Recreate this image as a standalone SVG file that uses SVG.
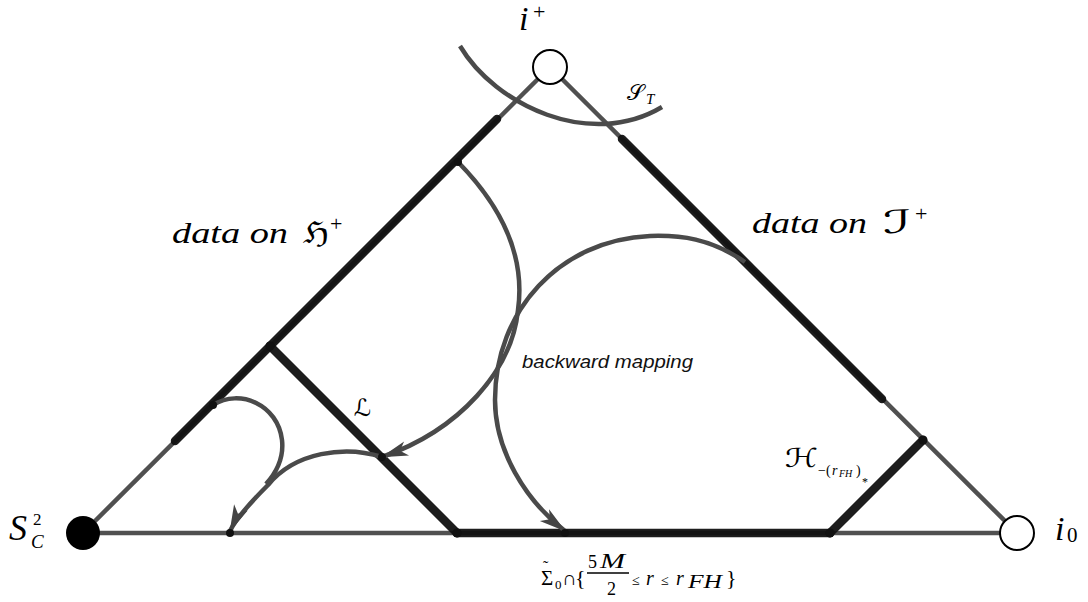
<svg xmlns="http://www.w3.org/2000/svg" width="1088" height="602" viewBox="0 0 1088 602">
<defs>
<style>
.thin{stroke:#505050;stroke-width:4.5;fill:none}
.thick{stroke:#111;stroke-width:8.5;fill:none;stroke-linecap:round;opacity:0.95}
.curve{stroke:#4a4a4a;stroke-width:4.5;fill:none}
.dot{fill:#111}
.m{font-family:"Liberation Serif","Times New Roman",serif;font-style:italic;fill:#000}
.r{font-family:"Liberation Serif","Times New Roman",serif;font-style:normal;fill:#000}
.s{font-family:"DejaVu Serif","DejaVu Sans","Noto Sans",serif;font-style:normal;fill:#000}
.sans{font-family:"Liberation Sans",Arial,sans-serif;font-style:italic;fill:#111}
</style>
<marker id="ah" markerUnits="userSpaceOnUse" viewBox="-28 -10 30 20" markerWidth="30" markerHeight="20" refX="0" refY="0" orient="auto">
<path d="M1,0 L-26,-7.5 L-19,0 L-26,7.5 Z" fill="#444"/>
</marker>
</defs>
<rect width="1088" height="602" fill="#fff"/>
<g id="connectors">
<path class="thin" d="M83,533 L550,67"/>
<path class="thin" d="M550,67 L1017,533"/>
<path class="thin" d="M83,533 L1017,533"/>
<path class="thick" d="M175,441 L497,119"/>
<path class="thick" d="M622,139 L882,399"/>
<path class="thick" d="M270,346 L457,533"/>
<path class="thick" d="M457,533 L830,533"/>
<path class="thick" d="M830,533 L923,440"/>
<path class="curve" d="M460,46 C495,105 590,150 662,107"/>
<path class="curve" d="M458,162 C505,210 525,260 518,310 C512,370 460,430 382,457" marker-end="url(#ah)"/>
<path class="curve" d="M745,262 C710,238 680,235 650,236 C560,240 495,310 495,400 C495,450 525,500 565,531" marker-end="url(#ah)"/>
<path class="curve" d="M382,457 C345,445 295,452 268,485 C250,503 236,518 230,531" marker-end="url(#ah)"/>
<path class="curve" d="M213,405 C240,388 278,405 282,440 C284,458 276,473 266,484"/>
<g id="junctions">
<circle class="dot" cx="270" cy="346" r="4.5"/>
<circle class="dot" cx="457" cy="533" r="4.5"/>
<circle class="dot" cx="830" cy="533" r="4.5"/>
<circle class="dot" cx="923" cy="440" r="4.5"/>
<circle class="dot" cx="458" cy="162" r="4"/>
<circle class="dot" cx="230" cy="533" r="4"/>
<circle class="dot" cx="565" cy="533" r="4"/>
<circle class="dot" cx="382" cy="457" r="4"/>
<circle class="dot" cx="213" cy="405" r="4"/>
</g>
</g>
<g id="node-iplus">
<circle cx="550" cy="67" r="17" fill="#fff" stroke="#000" stroke-width="2"/>
<text class="m" x="519" y="30" font-size="34">i</text>
<text class="r" x="533" y="19" font-size="22">+</text>
</g>
<g id="node-izero">
<circle cx="1017" cy="533" r="17" fill="#fff" stroke="#000" stroke-width="2"/>
<text class="m" x="1055" y="540" font-size="34">i</text>
<text class="r" x="1067" y="542" font-size="21">0</text>
</g>
<g id="node-s2c">
<circle cx="83" cy="533" r="17" fill="#000"/>
<text class="m" x="9" y="540" font-size="36">S</text>
<text class="r" x="33" y="525" font-size="17">2</text>
<text class="m" x="31" y="548" font-size="19">C</text>
</g>
<g id="label-ST">
<text class="s" x="627" y="100" font-size="22">𝒮</text>
<text class="m" x="646" y="104" font-size="15">T</text>
</g>
<g id="label-H">
<text class="m" x="172" y="243" font-size="30" textLength="116" lengthAdjust="spacingAndGlyphs">data on</text>
<text class="s" x="303" y="243" font-size="30" textLength="26" lengthAdjust="spacingAndGlyphs">ℌ</text>
<text class="r" x="330" y="231" font-size="22">+</text>
</g>
<g id="label-I">
<text class="m" x="752" y="233" font-size="30" textLength="115" lengthAdjust="spacingAndGlyphs">data on</text>
<text class="s" x="883" y="233" font-size="32" textLength="28" lengthAdjust="spacingAndGlyphs">ℐ</text>
<text class="r" x="915" y="221" font-size="22">+</text>
</g>
<g id="label-backward">
<text class="sans" x="522" y="368" font-size="19" textLength="171" lengthAdjust="spacingAndGlyphs">backward mapping</text>
</g>
<g id="label-L">
<text class="s" x="354" y="416" font-size="24">ℒ</text>
</g>
<g id="label-Hr">
<text class="s" x="785" y="467" font-size="26" textLength="33" lengthAdjust="spacingAndGlyphs">ℋ</text>
<text class="r" x="818" y="475" font-size="14">−(</text>
<text class="m" x="832" y="475" font-size="14">r</text>
<text class="m" x="839" y="477" font-size="10">FH</text>
<text class="r" x="856" y="475" font-size="14">)</text>
<text class="r" x="862" y="486" font-size="12">*</text>
</g>
<g id="label-sigma">
<text class="r" font-size="21"><tspan x="543" y="572" font-size="16">˜</tspan><tspan x="541" y="585">Σ</tspan></text>
<text class="r" x="555" y="589" font-size="13">0</text>
<text class="r" x="562" y="585" font-size="20">∩</text>
<text class="r" x="575" y="585" font-size="22">{</text>
<text class="r" x="588" y="568" font-size="18">5</text>
<text class="m" x="600" y="568" font-size="20" textLength="25" lengthAdjust="spacingAndGlyphs">M</text>
<line x1="587" y1="573" x2="629" y2="573" stroke="#000" stroke-width="1.3"/>
<text class="r" x="607" y="595" font-size="18">2</text>
<text class="r" x="632" y="585" font-size="14">≤</text>
<text class="m" x="646" y="585" font-size="20">r</text>
<text class="r" x="661" y="585" font-size="14">≤</text>
<text class="m" x="676" y="585" font-size="20">r</text>
<text class="m" x="688" y="588" font-size="19" textLength="34" lengthAdjust="spacingAndGlyphs">FH</text>
<text class="r" x="726" y="585" font-size="22">}</text>
</g>
</svg>
